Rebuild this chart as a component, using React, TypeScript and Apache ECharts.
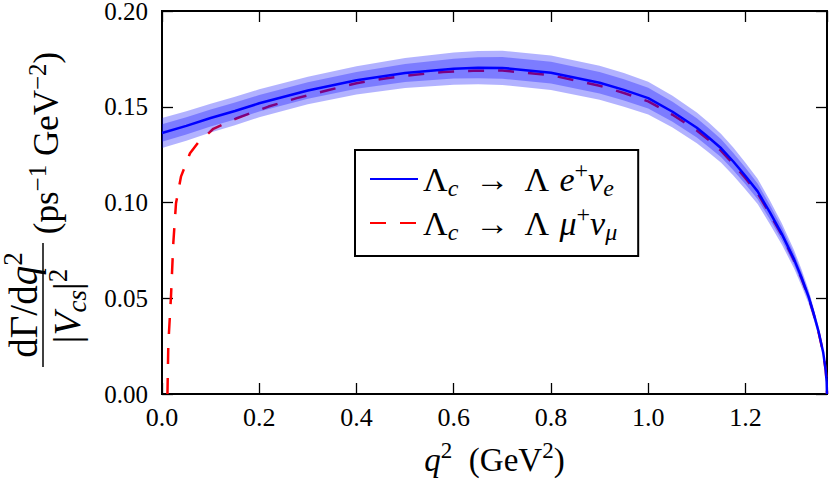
import React, { useEffect, useRef } from 'react';
import * as echarts from 'echarts';

// q^2 grid (GeV^2) for the electron mode and its uncertainty bands
const q2 = [0, 0.05, 0.1, 0.15, 0.2, 0.3, 0.4, 0.5, 0.6, 0.65, 0.7, 0.8, 0.9, 0.95, 1.0, 1.05, 1.1, 1.125, 1.15, 1.175, 1.2, 1.225, 1.25, 1.275, 1.3, 1.315, 1.33, 1.34, 1.35, 1.36, 1.365, 1.367, 1.3677];
// dGamma/dq^2 / |Vcs|^2 for Lambda_c -> Lambda e+ nu_e (ps^-1 GeV^-2)
const electron = [0.1363, 0.1400, 0.1441, 0.1478, 0.1518, 0.1585, 0.1638, 0.1676, 0.1699, 0.1704, 0.1703, 0.1678, 0.1625, 0.1588, 0.1545, 0.1474, 0.1390, 0.1338, 0.1283, 0.1214, 0.1138, 0.1058, 0.0950, 0.0835, 0.0703, 0.0610, 0.0507, 0.0422, 0.0330, 0.0215, 0.0125, 0.0063, 0];
// half widths of the outer and inner shaded bands
const outerHalf = [0.0078, 0.0077, 0.0075, 0.0074, 0.0073, 0.0072, 0.0074, 0.0078, 0.0084, 0.0087, 0.0089, 0.0090, 0.0089, 0.0088, 0.0086, 0.0083, 0.0080, 0.0078, 0.0075, 0.0073, 0.0070, 0.0066, 0.0062, 0.0055, 0.0048, 0.0043, 0.0036, 0.0030, 0.0024, 0.0016, 0.0010, 0.0005, 0];
const innerHalf = [0.0046, 0.0045, 0.0044, 0.0044, 0.0043, 0.0043, 0.0044, 0.0047, 0.0052, 0.0055, 0.0057, 0.0057, 0.0056, 0.0055, 0.0054, 0.0052, 0.0050, 0.0049, 0.0047, 0.0045, 0.0043, 0.0041, 0.0038, 0.0034, 0.0030, 0.0027, 0.0022, 0.0019, 0.0015, 0.0010, 0.0006, 0.0003, 0];

// muon mode
const muQ2 = [0.0112, 0.013, 0.0185, 0.0233, 0.0288, 0.039, 0.0576, 0.075, 0.092, 0.1056, 0.154, 0.219, 0.277, 0.339, 0.40, 0.462, 0.52, 0.578, 0.64, 0.7, 0.8, 0.9, 0.95, 1.0, 1.05, 1.1, 1.125, 1.15, 1.175, 1.2, 1.225, 1.25, 1.275, 1.3, 1.315, 1.33, 1.34, 1.35, 1.36, 1.365, 1.367, 1.3677];
const muon = [0, 0.026, 0.051, 0.079, 0.0996, 0.1135, 0.1257, 0.1315, 0.1353, 0.1385, 0.1440, 0.1501, 0.1545, 0.1585, 0.1623, 0.1649, 0.1667, 0.1681, 0.1688, 0.1689, 0.1665, 0.1610, 0.1572, 0.1528, 0.1458, 0.1376, 0.1325, 0.1270, 0.1202, 0.1127, 0.1048, 0.0941, 0.0829, 0.0697, 0.0605, 0.0503, 0.0419, 0.0327, 0.0213, 0.0124, 0.0062, 0];

const xTicks = { min: 0, max: 1.3677, interval: 0.2 };
const yTicks = { min: 0, max: 0.2, interval: 0.05 };

const FONT = 'Liberation Serif';

const axisLine = () => ({ show: true, onZero: false, lineStyle: { color: '#000', width: 2 } });
const axisTick = () => ({ show: true, inside: true, length: 11, lineStyle: { color: '#000', width: 1.3 } });

export default function App() {
  const ref = useRef<HTMLDivElement>(null);
  useEffect(() => {
    const chart = echarts.init(ref.current!, null, { renderer: 'svg' });

    const band = (half: number[], z: number) => ({
      type: 'custom',
      z,
      silent: true,
      data: [[0, 0]],
      renderItem: (_p: any, api: any) => {
        const pts: number[][] = [];
        for (let i = 0; i < q2.length; i++) pts.push(api.coord([q2[i], electron[i] + half[i]]));
        for (let i = q2.length - 1; i >= 0; i--) pts.push(api.coord([q2[i], electron[i] - half[i]]));
        return { type: 'polygon', shape: { points: pts }, style: { fill: 'rgba(0,0,255,0.3)', stroke: 'none' } };
      },
    });

    const rich = (fs: number, lh: number) => ({
      m: { fontFamily: FONT, fontSize: fs, lineHeight: lh, fill: '#000', color: '#000' },
      mi: { fontFamily: FONT, fontSize: fs, lineHeight: lh, fill: '#000', color: '#000', fontStyle: 'italic' },
      sb: { fontFamily: FONT, fontSize: Math.round(fs * 0.7), lineHeight: Math.round(lh * 0.6), fill: '#000', color: '#000', fontStyle: 'italic', verticalAlign: 'bottom' },
      sp: { fontFamily: FONT, fontSize: Math.round(fs * 0.7), lineHeight: Math.round(lh * 0.55), fill: '#000', color: '#000', verticalAlign: 'top' },
    });

    const rotText = (text: string, x: number, y: number, fs: number) => ({
      type: 'text', x, y, rotation: Math.PI / 2, silent: true,
      style: { text, rich: rich(fs, fs + 8), align: 'center', verticalAlign: 'middle', fill: '#000' },
    });

    chart.setOption({
      animation: false,
      backgroundColor: '#fff',
      grid: { show: true, borderColor: '#000', borderWidth: 2, backgroundColor: 'transparent', left: 162, right: 3, top: 11, bottom: 89, outerBoundsMode: 'none' },
      xAxis: [
        {
          type: 'value', ...xTicks, position: 'bottom', gridIndex: 0,
          axisLine: axisLine(), axisTick: axisTick(), splitLine: { show: false },
          axisLabel: { show: true, showMaxLabel: false, margin: 10, fontFamily: FONT, fontSize: 26, color: '#000', formatter: (v: number) => v.toFixed(1) },
          name: '{mi|q}{sp|2}{m|  (GeV}{sp|2}{m|)}',
          nameLocation: 'middle',
          nameGap: 45,
          nameTextStyle: { rich: rich(33, 42) },
        },
        {
          type: 'value', ...xTicks, position: 'top', gridIndex: 0,
          axisLine: axisLine(), axisTick: axisTick(), splitLine: { show: false },
          axisLabel: { show: false },
        },
      ],
      yAxis: [
        {
          type: 'value', ...yTicks, position: 'left', gridIndex: 0,
          axisLine: axisLine(), axisTick: axisTick(), splitLine: { show: false },
          axisLabel: { show: true, margin: 14, fontFamily: FONT, fontSize: 25, color: '#000', formatter: (v: number) => v.toFixed(2) },
        },
        {
          type: 'value', ...yTicks, position: 'right', gridIndex: 0,
          axisLine: axisLine(), axisTick: axisTick(), splitLine: { show: false },
          axisLabel: { show: false },
        },
      ],
      legend: {
        orient: 'vertical', left: 355, top: 150, z: 10,
        data: ['e', 'mu'],
        selectedMode: false,
        itemWidth: 48, itemHeight: 2, itemGap: 2,
        itemStyle: { opacity: 0 },
        padding: [8, 21, 12, 14],
        backgroundColor: '#fff', borderColor: '#000', borderWidth: 2, borderRadius: 0,
        formatter: (name: string) =>
          name === 'e'
            ? '{m|Λ}{sb|c}{m|  →  Λ }{mi|e}{sp|+}{mi|ν}{sb|e}'
            : '{m|Λ}{sb|c}{m|  →  Λ }{mi|μ}{sp|+}{mi|ν}{sb|μ}',
        textStyle: { fontFamily: FONT, color: '#000', rich: rich(34, 42) },
      },
      graphic: [
        rotText('{m|(ps}{sp|−1}{m| GeV}{sp|−2}{m|)}', 46, 143, 35),
        rotText('{m|dΓ/d}{mi|q}{sp|2}', 23, 305, 39),
        { type: 'line', silent: true, shape: { x1: 43, y1: 243, x2: 43, y2: 367 }, style: { stroke: '#000', lineWidth: 1.5 } },
        rotText('{m||}{mi|V}{sb|cs}{m||}{sp|2}', 67, 306, 38),
      ],
      series: [
        {
          name: 'mu', type: 'line', z: 1, showSymbol: false, symbol: 'none',
          data: muQ2.map((x, i) => [x, muon[i]]),
          lineStyle: { color: '#ff0000', width: 2.5, type: [16, 14] },
          itemStyle: { color: '#ff0000' },
        },
        band(outerHalf, 2),
        band(innerHalf, 3),
        {
          name: 'e', type: 'line', z: 4, showSymbol: false, symbol: 'none',
          data: q2.map((x, i) => [x, electron[i]]),
          lineStyle: { color: '#0000ff', width: 2.5 },
          itemStyle: { color: '#0000ff' },
        },
      ],
    });
    return () => chart.dispose();
  }, []);
  return (
    <div style={{ position: 'fixed', left: 0, top: 0, width: 830, height: 483, background: '#fff' }}>
      <div ref={ref} style={{ width: 830, height: 483 }} />
    </div>
  );
}
